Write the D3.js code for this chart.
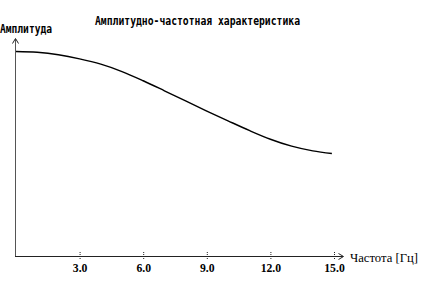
<!DOCTYPE html>
<html>
<head>
<meta charset="utf-8">
<script src="https://cdn.jsdelivr.net/npm/d3@7"></script>
<style>
  html, body { margin: 0; padding: 0; background: #fff; }
  #chart { width: 432px; height: 287px; }
</style>
</head>
<body>
<div id="chart"></div>
<script>
// АЧХ
const freq = [0, 1, 2, 3, 4, 5, 6, 7, 8, 9, 10, 11, 12, 13, 14, 14.9];
const ampl = [1.0, 0.996, 0.984, 0.964, 0.938, 0.902, 0.857, 0.808, 0.758, 0.709, 0.661, 0.614, 0.571, 0.537, 0.514, 0.501];
const tickVals = [3, 6, 9, 12, 15];
const title = "Амплитудно-частотная характеристика";
const yLabel = "Амплитуда";
const xLabel = "Частота [Гц]";

const width = 432, height = 287;

const svg = d3.select("#chart")
  .append("svg")
  .attr("width", width)
  .attr("height", height);

const x = d3.scaleLinear().domain([0, 15]).range([16, 334]);
const y = d3.scaleLinear().domain([0, 1]).range([256, 51.5]);

// оси
svg.append("line")
  .attr("x1", 15.5).attr("x2", 15.5)
  .attr("y1", 256).attr("y2", 39)
  .attr("stroke", "#555")
  .attr("stroke-width", 1);
svg.append("path")
  .attr("d", "M12.5,43.5L15.5,38.5L18.5,43.5")
  .attr("fill", "none")
  .attr("stroke", "#222");

svg.append("line")
  .attr("x1", 15).attr("x2", 343)
  .attr("y1", 256.5).attr("y2", 256.5)
  .attr("stroke", "#222")
  .attr("stroke-width", 1);
svg.append("path")
  .attr("d", "M338.5,253.5L343.5,256.5L338.5,259.5")
  .attr("fill", "none")
  .attr("stroke", "#222");

// деления и подписи
const xAxis = d3.axisBottom(x)
  .tickValues(tickVals)
  .tickFormat(d3.format(".1f"))
  .tickSizeInner(0)
  .tickSizeOuter(0);

const gx = svg.append("g")
  .attr("transform", "translate(0,256)")
  .call(xAxis);
gx.select(".domain").remove();
gx.selectAll(".tick line")
  .attr("y1", -4).attr("y2", 3)
  .attr("stroke", "#222")
  .attr("stroke-dasharray", "1,1");
gx.selectAll(".tick text")
  .attr("y", 7)
  .attr("dy", "0.71em")
  .attr("fill", "#000")
  .attr("font-family", "Liberation Serif")
  .attr("font-weight", "bold")
  .attr("font-size", "13px")
  .attr("transform", "scale(0.9,1)");

// кривая
const line = d3.line()
  .x((d, i) => x(freq[i]))
  .y((d) => y(d))
  .curve(d3.curveMonotoneX);

svg.append("path")
  .datum(ampl)
  .attr("d", line)
  .attr("fill", "none")
  .attr("stroke", "#000")
  .attr("stroke-width", 1.4);

// тексты
svg.append("text")
  .attr("x", 95).attr("y", 25)
  .attr("textLength", 205)
  .attr("lengthAdjust", "spacingAndGlyphs")
  .attr("font-family", "DejaVu Sans Mono")
  .attr("font-weight", "bold")
  .attr("font-size", "12px")
  .attr("fill", "#000")
  .text(title);

svg.append("text")
  .attr("x", 0).attr("y", 33)
  .attr("textLength", 52)
  .attr("lengthAdjust", "spacingAndGlyphs")
  .attr("font-family", "DejaVu Sans Mono")
  .attr("font-weight", "bold")
  .attr("font-size", "12px")
  .attr("fill", "#000")
  .text(yLabel);

svg.append("text")
  .attr("x", 350).attr("y", 262)
  .attr("textLength", 68)
  .attr("lengthAdjust", "spacingAndGlyphs")
  .attr("font-family", "Liberation Serif")
  .attr("font-size", "12px")
  .attr("fill", "#000")
  .text(xLabel);
</script>
</body>
</html>
